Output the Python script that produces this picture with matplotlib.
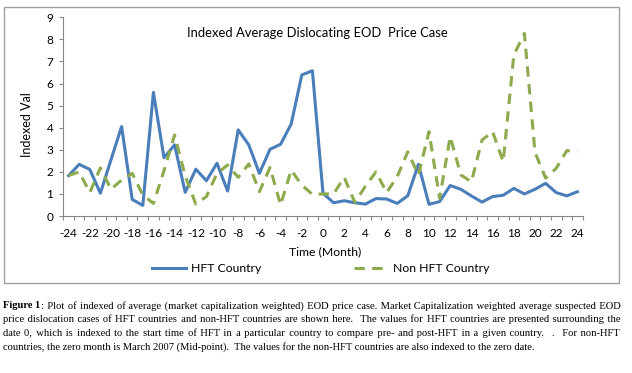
import matplotlib
matplotlib.use('Agg')
import matplotlib.pyplot as plt
import numpy as np
from matplotlib.patches import Rectangle

# ---------------- data ----------------
months = np.arange(-24, 25)
hft = [1.83, 2.34, 2.11, 1.03, 2.55, 4.05, 0.75, 0.48, 5.60, 2.64,
       3.22, 1.07, 2.12, 1.60, 2.39, 1.13, 3.90, 3.22, 1.93, 3.02,
       3.25, 4.17, 6.39, 6.58, 1.03, 0.60, 0.69, 0.60, 0.54, 0.79,
       0.77, 0.57, 0.92, 2.34, 0.53, 0.65, 1.38, 1.21, 0.91, 0.63,
       0.88, 0.94, 1.25, 1.00, 1.21, 1.48, 1.06, 0.91, 1.10]
non_hft = [1.83, 2.00, 1.06, 2.18, 1.21, 1.63, 1.93, 0.95, 0.57, 2.05,
           3.67, 1.82, 0.54, 0.88, 1.93, 2.31, 1.75, 2.36, 1.10, 2.20,
           0.50, 2.08, 1.40, 0.98, 1.00, 1.00, 1.75, 0.62, 1.35, 2.00,
           1.06, 1.78, 2.91, 1.86, 3.82, 0.80, 3.59, 1.86, 1.55, 3.44,
           3.82, 2.46, 7.29, 8.27, 2.88, 1.72, 2.16, 2.96, 2.93]
xtick_vals = list(range(-24, 25, 2))
xtick_labels = [str(v) for v in xtick_vals]
ytick_vals = list(range(0, 10))

title = "Indexed Average Dislocating EOD  Price Case"
xlabel = "Time (Month)"
ylabel = "Indexed Val"
series_names = ["HFT Country", "Non HFT Country"]

caption_bold = "Figure 1"
caption_lines = [
    ": Plot of indexed of average (market capitalization weighted) EOD price case. Market Capitalization weighted average suspected EOD",
    "price dislocation cases of HFT countries and non-HFT countries are shown here.  The values for HFT countries are presented surrounding the",
    "date 0, which is indexed to the start time of HFT in a particular country to compare pre- and post-HFT in a given country.  .  For non-HFT",
    "countries, the zero month is March 2007 (Mid-point).  The values for the non-HFT countries are also indexed to the zero date.",
]

# ---------------- layout ----------------
W, H = 632, 373
fig = plt.figure(figsize=(W / 100, H / 100), dpi=100)
fig.patch.set_facecolor('white')
SANS = ['Lato', 'DejaVu Sans']
SERIF = ['Liberation Serif', 'DejaVu Serif']
FS = 8.5
AXC = '#868686'


def fx(px):
    return px / W


def fy(py):
    return 1 - py / H


ax = fig.add_axes([fx(63.3), fy(216), (582.7 - 63.3) / W, (216 - 17.3) / H])
l1, = ax.plot(months, hft, color='#4A7EBB', lw=2.2, label=series_names[0])
l2, = ax.plot(months, non_hft, color='#8DAA4C', lw=2.2, ls=(0, (3.4, 2.4)),
              dash_capstyle='butt', label=series_names[1])

ax.set_xlim(-24.5, 24.5)
ax.set_ylim(0, 9)
ax.set_xticks(xtick_vals)
ax.set_xticklabels(xtick_labels, family=SANS, fontsize=FS)
ax.set_xticks(np.arange(-24.5, 25, 1), minor=True)
ax.tick_params(axis='x', which='major', length=0, pad=8.5)
ax.tick_params(axis='x', which='minor', length=2.9, width=0.8, color=AXC)
ax.set_yticks(ytick_vals)
ax.set_yticklabels([str(v) for v in ytick_vals], family=SANS, fontsize=FS)
ax.tick_params(axis='y', length=2.9, width=0.8, color=AXC, pad=4.3)
for s in ['top', 'right']:
    ax.spines[s].set_visible(False)
for s in ['left', 'bottom']:
    ax.spines[s].set_color(AXC)
    ax.spines[s].set_linewidth(0.8)
ax.set_facecolor('none')

fig.text(fx(317), fy(33), title, ha='center', va='center', family=SANS, fontsize=9.4)
fig.text(fx(27), fy(125), ylabel, ha='center', va='center', rotation=90, family=SANS, fontsize=9.0)
fig.text(fx(325), fy(251.7), xlabel, ha='center', va='center', family=SANS, fontsize=8.8)

fig.legend(handles=[l1, l2], loc='center', bbox_to_anchor=(fx(321), fy(268.3)),
           ncol=2, frameon=False, prop={'family': SANS, 'size': 8.8},
           handlelength=2.8, handletextpad=0.4, columnspacing=7.6,
           borderpad=0, borderaxespad=0)

fig.patches.append(Rectangle((fx(3.5), fy(283.3)), (618.5 - 3.5) / W, (283.3 - 7) / H,
                             transform=fig.transFigure, fill=False,
                             edgecolor='#a0a0a0', lw=1.0))

# ---------------- caption (justified with hair spaces) ----------------
renderer = fig.canvas.get_renderer()


def text_width(s, size, weight='normal'):
    if s == '':
        return 0.0
    t = fig.text(0, 0, s, fontsize=size, family=SERIF, weight=weight)
    w = t.get_window_extent(renderer).width
    t.remove()
    return w


cfs = 10 * 527.0 / text_width(caption_lines[3], 10)
x0, x1 = 3.3, 620.3
baselines = [308.3, 322.0, 335.7, 349.3]
HAIR = '\u200a'
hair_w = text_width('a' + HAIR * 10 + 'a', cfs) - text_width('aa', cfs)
hair_w /= 10.0

bold_w = text_width(caption_bold, cfs, 'bold')
fig.text(fx(x0), fy(baselines[0]), caption_bold, fontsize=cfs, family=SERIF,
         weight='bold', ha='left', va='baseline')

for li, line in enumerate(caption_lines):
    yb = fy(baselines[li])
    start = x0 + (bold_w if li == 0 else 0.0)
    if li < 3 and hair_w > 0:
        toks = line.split(' ')
        ngaps = len(toks) - 1
        natural = text_width(line, cfs)
        total_hairs = int(round((x1 - start - natural) / hair_w))
        out = toks[0]
        given = 0
        for g in range(1, ngaps + 1):
            target = int(round(total_hairs * g / ngaps))
            out += ' ' + HAIR * (target - given) + toks[g]
            given = target
        s = out
    else:
        s = line
    fig.text(fx(start), yb, s, fontsize=cfs, family=SERIF, ha='left', va='baseline')

fig.savefig('out.png', dpi=100, facecolor='white')
